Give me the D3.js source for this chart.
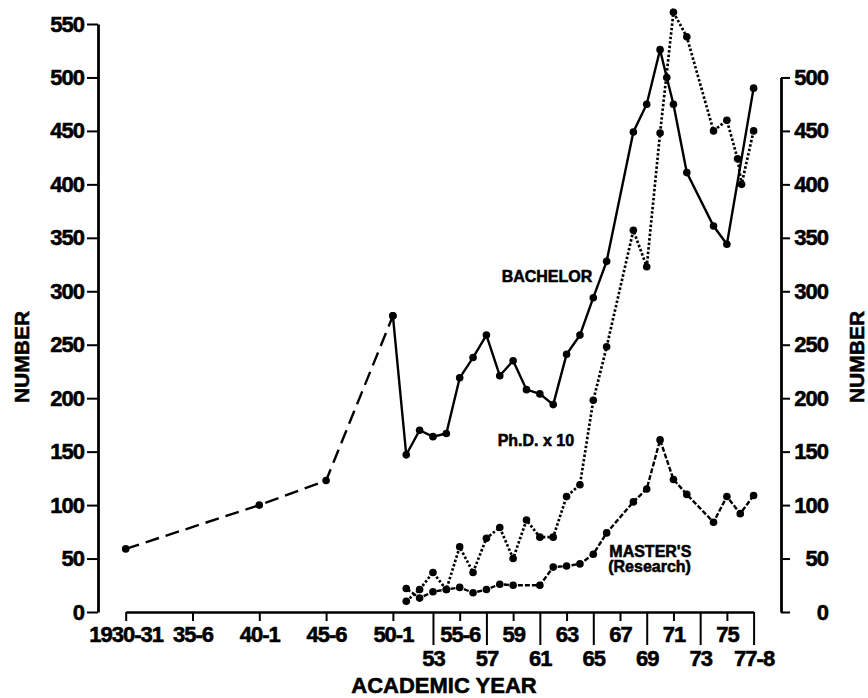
<!DOCTYPE html>
<html><head><meta charset="utf-8">
<script src="https://cdn.jsdelivr.net/npm/d3@7"></script>
<style>
body{margin:0;background:#fff}
svg{display:block;background:#fff}
text{font-family:"Liberation Sans",Arial,Helvetica,sans-serif;font-weight:bold;fill:#000;stroke:#000;stroke-width:0.55px}
</style>
</head><body>
<svg id="chart" width="868" height="698"></svg>
<script>
// ---- data ----
const bachelorEarlyYears  = [1930, 1940, 1945, 1950];
const bachelorEarlyValues = [59, 100, 123, 277];

const bachelorYears  = [1950,1951,1952,1953,1954,1955,1956,1957,1958,1959,1960,1961,1962,1963,1964,1965,1966,1968,1969,1970,1970.5,1971,1972,1974,1975,1977];
const bachelorValues = [277, 147, 170, 164, 167, 219, 238, 259, 221, 235, 208, 204, 194, 241, 259, 294, 328, 449, 475, 526, 500, 475, 411, 361, 344, 490];

const phdYears  = [1951,1952,1953,1954,1955,1956,1957,1958,1959,1960,1961,1962,1963,1964,1965,1966,1968,1969,1970,1971,1972,1974,1975,1975.8,1976.1,1977];
const phdValues = [10, 21, 37, 21, 61, 37, 69, 79, 50, 86, 70, 70, 108, 119, 198, 248, 357, 323, 448, 561, 538, 450, 460, 424, 400, 450];

const mastersYears  = [1951,1952,1953,1954,1955,1956,1957,1958,1959,1961,1962,1963,1964,1965,1966,1968,1969,1970,1971,1972,1974,1975,1976,1977];
const mastersValues = [22, 13, 19, 21, 23, 18, 21, 26, 25, 25, 42, 43, 45, 54, 74, 103, 115, 161, 124, 110, 84, 108, 92, 109];

const upperTickYears  = [1930,1935,1940,1945,1950,1955,1959,1963,1967,1971,1975];
const upperTickLabels = ["1930-31","35-6","40-1","45-6","50-1","55-6","59","63","67","71","75"];
const lowerTickYears  = [1953,1957,1961,1965,1969,1973,1977];
const lowerTickLabels = ["53","57","61","65","69","73","77-8"];

const leftTicks  = [0,50,100,150,200,250,300,350,400,450,500,550];
const rightTicks = [0,50,100,150,200,250,300,350,400,450,500];

const seriesLabels = [
  {text:"BACHELOR",   year:1958.14, value:308.7},
  {text:"Ph.D. x 10", year:1957.84, value:155.3},
  {text:"MASTER'S",   year:1966.2,  value:51.7},
  {text:"(Research)", year:1966.12, value:37}
];

// ---- chart ----
const svg = d3.select("#chart");
const x = d3.scaleLinear().domain([1930,1977]).range([125.7,753.6]);
const y = d3.scaleLinear().domain([0,550]).range([612,24]);
const yR = d3.scaleLinear().domain([0,500]).range([y(0), y(500)]);

const tickFont = g => g.selectAll("text")
  .style("font-size","22px").style("letter-spacing","-1px")
  .style("font-family","'Liberation Sans',Arial,sans-serif").style("font-weight","bold")
  .style("stroke","#000").style("stroke-width","0.55px");

// x axis (two rows)
const xUpper = d3.axisBottom(x).tickValues(upperTickYears)
  .tickFormat((d,i)=>upperTickLabels[i]).tickSize(9).tickSizeOuter(0).tickPadding(5);
const xLower = d3.axisBottom(x).tickValues(lowerTickYears)
  .tickFormat((d,i)=>lowerTickLabels[i]).tickSize(33).tickSizeOuter(0).tickPadding(5);

const gxU = svg.append("g").attr("transform",`translate(0,${y(0)})`).call(xUpper).call(tickFont);
const gxL = svg.append("g").attr("transform",`translate(0,${y(0)})`).call(xLower).call(tickFont);
gxL.select(".domain").remove();
gxU.select(".domain").attr("stroke-width",2.6);
[gxU,gxL].forEach(g=>g.selectAll(".tick line").attr("stroke-width",2));

// left axis
const gyL = svg.append("g").attr("transform","translate(98,0)")
  .call(d3.axisLeft(y).tickValues(leftTicks).tickSize(11).tickSizeOuter(0).tickPadding(3))
  .call(tickFont);
gyL.select(".domain").attr("stroke-width",2.8);
gyL.selectAll(".tick line").attr("stroke-width",2);

// right axis
const gyR = svg.append("g").attr("transform","translate(781,0)")
  .call(d3.axisRight(yR).tickValues(rightTicks).tickSize(9).tickSizeOuter(0).tickPadding(5))
  .call(tickFont);
gyR.select(".domain").attr("stroke-width",2.8);
gyR.selectAll(".tick line").attr("stroke-width",2);
gyR.selectAll(".tick text").attr("text-anchor","end").attr("x",47);

// axis titles
svg.append("text").attr("x",444).attr("y",693).attr("text-anchor","middle")
  .style("font-size","22px").text("ACADEMIC YEAR");
svg.append("text").attr("transform","translate(29,357) rotate(-90)").attr("text-anchor","middle")
  .style("font-size","21px").text("NUMBER");
svg.append("text").attr("transform","translate(864,357) rotate(-90)").attr("text-anchor","middle")
  .style("font-size","21px").text("NUMBER");

// lines
const line = d3.line().x(d=>x(d[0])).y(d=>y(d[1]));
const zipS = (a,b)=>a.map((v,i)=>[v,b[i]]);

const series = [
  {data:zipS(bachelorEarlyYears,bachelorEarlyValues), dash:"14,7", w:2.4},
  {data:zipS(bachelorYears,bachelorValues), dash:null, w:2.4},
  {data:zipS(phdYears,phdValues), dash:"2.5,2", w:2.7},
  {data:zipS(mastersYears,mastersValues), dash:"5,2", w:2.4}
];

series.forEach(s=>{
  svg.append("path").datum(s.data).attr("d",line)
    .attr("fill","none").attr("stroke","#000").attr("stroke-width",s.w)
    .attr("stroke-dasharray",s.dash);
});
series.forEach(s=>{
  svg.append("g").selectAll("circle").data(s.data).join("circle")
    .attr("cx",d=>x(d[0])).attr("cy",d=>y(d[1])).attr("r",3.8).attr("fill","#000");
});

// series labels
svg.append("g").selectAll("text").data(seriesLabels).join("text")
  .attr("x",d=>x(d.year)).attr("y",d=>y(d.value))
  .style("font-size","16px").text(d=>d.text);
</script>
</body></html>
